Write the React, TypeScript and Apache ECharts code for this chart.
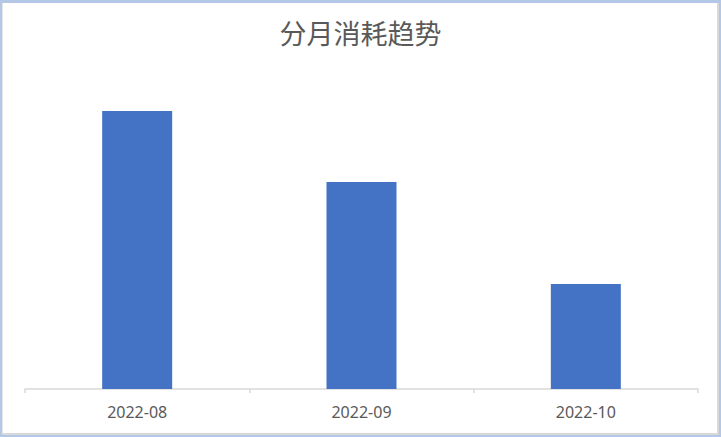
import React, { useEffect, useRef } from 'react';
import * as echarts from 'echarts';

const title = '分月消耗趋势';
const months = ['2022-08', '2022-09', '2022-10'];
const usage = [278, 207, 105];

const App: React.FC = () => {
  const chartRef = useRef<HTMLDivElement>(null);

  useEffect(() => {
    document.body.style.margin = '0';
    if (!chartRef.current) return;
    const chart = echarts.init(chartRef.current, undefined, { renderer: 'svg' });

    chart.setOption({
      animation: false,
      title: {
        text: title,
        left: 'center',
        top: 14,
        textStyle: {
          color: '#595959',
          fontSize: 27,
          fontWeight: 'normal',
          fontFamily: 'Noto Sans CJK SC'
        }
      },
      grid: {
        left: 25,
        right: 23,
        top: 89,
        bottom: 48
      },
      xAxis: {
        type: 'category',
        data: months,
        axisLine: { lineStyle: { color: '#d9d9d9', width: 1.5 } },
        axisTick: { show: true, length: 4, lineStyle: { color: '#d9d9d9', width: 1.5 } },
        axisLabel: {
          color: '#595959',
          fontSize: 16,
          fontFamily: 'Noto Sans',
          margin: 15
        }
      },
      yAxis: {
        type: 'value',
        min: 0,
        max: 300,
        show: false,
        splitLine: { show: false }
      },
      series: [
        {
          type: 'bar',
          data: usage,
          barWidth: 70,
          itemStyle: { color: '#4472c4' }
        }
      ]
    });

    return () => {
      chart.dispose();
    };
  }, []);

  return (
    <div style={{ position: 'relative', width: 721, height: 437, background: '#fff' }}>
      <div ref={chartRef} style={{ position: 'absolute', left: 0, top: 0, width: 721, height: 437 }}></div>
      <div
        style={{
          position: 'absolute',
          inset: 0,
          border: '2px solid #b4c7e7',
          borderTopWidth: 3,
          pointerEvents: 'none'
        }}
      ></div>
      <div
        style={{
          position: 'absolute',
          left: 2,
          top: 3,
          right: 2,
          bottom: 2,
          borderRight: '2px solid #d9d9d9',
          borderBottom: '2px solid #d9d9d9',
          borderLeft: '1px solid #e6e6e6',
          pointerEvents: 'none'
        }}
      ></div>
    </div>
  );
};

export default App;
